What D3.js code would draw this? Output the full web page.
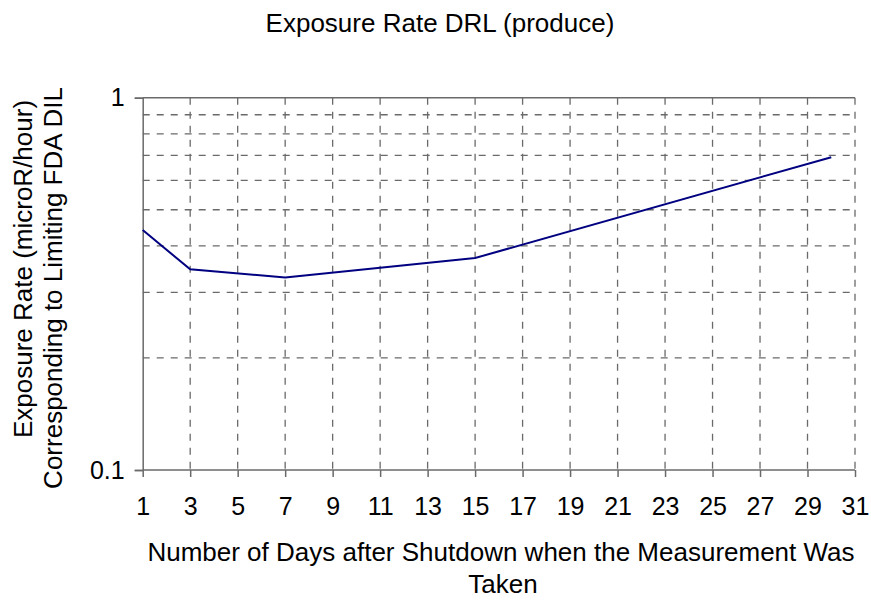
<!DOCTYPE html>
<html>
<head>
<meta charset="utf-8">
<script src="https://cdn.jsdelivr.net/npm/d3@7"></script>
<style>
  body { margin: 0; background: #fff; }
  text { font-family: "Liberation Sans", Arial, sans-serif; fill: #000; }
</style>
</head>
<body>
<div id="chart"></div>
<script>
// data
const days = [1, 3, 7, 15, 30];
const rates = [0.441, 0.346, 0.329, 0.371, 0.692];
const xTicks = [1, 3, 5, 7, 9, 11, 13, 15, 17, 19, 21, 23, 25, 27, 29, 31];
const yTicks = [0.1, 1];
const yGrid = [0.2, 0.3, 0.4, 0.5, 0.6, 0.7, 0.8, 0.9];

const W = 871, H = 602;
const plotL = 142.7, plotR = 855, plotT = 97.7, plotB = 470;

const svg = d3.select("#chart").append("svg")
    .attr("width", W)
    .attr("height", H);

const x = d3.scaleLinear().domain([1, 31]).range([plotL, plotR]);
const y = d3.scaleLog().domain([0.1, 1]).range([plotB, plotT]);

// horizontal dashed grid
svg.append("g").selectAll("line")
    .data(yGrid)
    .enter()
    .append("line")
    .attr("x1", plotL).attr("x2", plotR)
    .attr("y1", d => y(d)).attr("y2", d => y(d))
    .style("stroke", "#6a6a6a")
    .style("stroke-width", 1.3)
    .style("stroke-dasharray", "7,7");

// vertical dashed grid
svg.append("g").selectAll("line")
    .data(xTicks.slice(1))
    .enter()
    .append("line")
    .attr("x1", d => x(d)).attr("x2", d => x(d))
    .attr("y1", plotT).attr("y2", plotB)
    .style("stroke", "#6a6a6a")
    .style("stroke-width", 1.3)
    .style("stroke-dasharray", "7,7");

// top line (major gridline at 1)
svg.append("line")
    .attr("x1", plotL).attr("x2", plotR)
    .attr("y1", y(1)).attr("y2", y(1))
    .style("stroke", "#6a6a6a")
    .style("stroke-width", 1.5);

// x axis
const xAxis = svg.append("g")
    .attr("transform", `translate(0,${plotB})`)
    .call(d3.axisBottom(x).tickValues(xTicks).tickSize(7).tickPadding(20).tickFormat(d3.format("d")));
xAxis.select(".domain").attr("d", `M${plotL},0H${plotR}`);

// y axis
const yAxis = svg.append("g")
    .attr("transform", `translate(${plotL},0)`)
    .call(d3.axisLeft(y).tickValues(yTicks).tickSize(8).tickPadding(10).tickFormat(d => d === 1 ? "1" : "0.1"));

svg.selectAll(".domain, .tick line")
    .style("stroke", "#6a6a6a")
    .style("stroke-width", 1.5);
svg.selectAll(".tick text")
    .style("font-size", "25px")
    .style("font-family", "'Liberation Sans', Arial, sans-serif")
    .style("fill", "#000");

// data line
svg.append("path")
    .datum(days.map((d, i) => [d, rates[i]]))
    .attr("d", d3.line().x(d => x(d[0])).y(d => y(d[1])))
    .style("fill", "none")
    .style("stroke", "#000080")
    .style("stroke-width", 2);

// title
svg.append("text")
    .attr("x", 440).attr("y", 32)
    .attr("text-anchor", "middle")
    .style("font-size", "26px")
    .text("Exposure Rate DRL (produce)");

// x axis title
const xt = svg.append("text")
    .attr("text-anchor", "middle")
    .style("font-size", "26px");
xt.append("tspan").attr("x", 501).attr("y", 561).text("Number of Days after Shutdown when the Measurement Was");
xt.append("tspan").attr("x", 503).attr("y", 593).text("Taken");

// y axis title
const yt = svg.append("g")
    .style("font-size", "26px");
yt.append("text")
    .attr("transform", "translate(32,269) rotate(-90)")
    .attr("text-anchor", "middle")
    .text("Exposure Rate (microR/hour)");
yt.append("text")
    .attr("transform", "translate(62,288) rotate(-90)")
    .attr("text-anchor", "middle")
    .text("Corresponding to Limiting FDA DIL");
</script>
</body>
</html>
